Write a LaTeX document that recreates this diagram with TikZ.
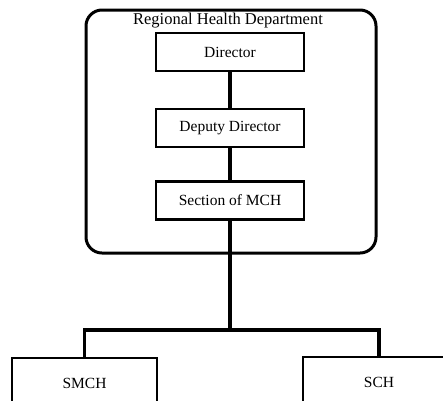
\documentclass[tikz,border=0pt]{standalone}
\usepackage{fontspec}
\setmainfont{Liberation Serif}
\begin{document}
\begin{tikzpicture}[x=1pt,y=-1pt,
  unitbox/.style={draw, line width=2.6pt, rectangle, minimum width=148pt,
    minimum height=38pt, inner sep=0pt, font=\fontsize{15.5}{17}\selectfont},
  leafbox/.style={draw, line width=2.6pt, rectangle, minimum height=60pt,
    inner sep=0pt, font=\fontsize{15.5}{17}\selectfont},
  dept/.style={draw, line width=3pt, rectangle, rounded corners=16pt,
    minimum width=290pt, minimum height=243pt, inner sep=0pt},
  link/.style={line width=3.2pt}]
\clip (0,0) rectangle (443,400);
\useasboundingbox (0,0) rectangle (443,400);

% regional health department container
\node[dept] (rhd) at (231,131.5) {};
\node[font=\fontsize{16.5}{18}\selectfont] (rhdtitle) at (228,21) {Regional Health Department};

% chain of command inside the department
\node[unitbox] (director) at (230,52) {Director};
\node[unitbox] (deputy) at (230,128) {Deputy Director};
\node[unitbox] (section) at (230,200.5) {Section of MCH};

% units below the department
\node[leafbox, minimum width=145pt] (smch) at (84.5,388) {\raisebox{10pt}{SMCH}};
\node[leafbox, minimum width=152pt] (sch) at (379,387) {\raisebox{10pt}{SCH}};

\coordinate (split) at (230,330);

\draw[link] (director.south) -- (deputy.north);
\draw[link] (deputy.south) -- (section.north);
\draw[link] (section.south) -- (split);
\draw[link] (split) -| (smch.north);
\draw[link] (split) -| (sch.north);
\end{tikzpicture}
\end{document}
